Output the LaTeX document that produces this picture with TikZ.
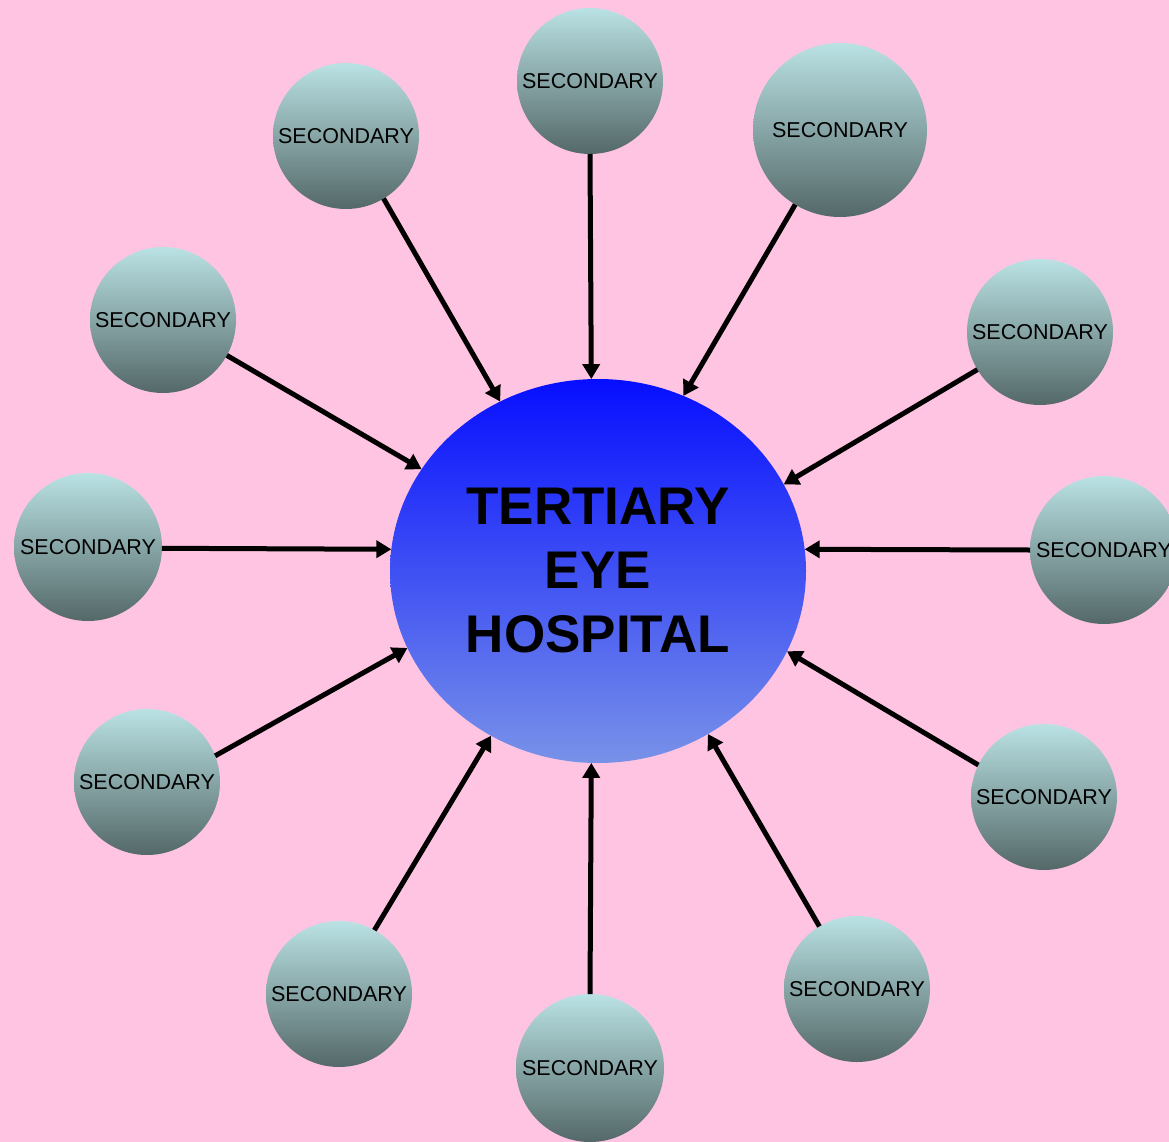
\documentclass[tikz,border=0pt]{standalone}
\usepackage{fontspec}
\setmainfont{Liberation Sans}
\usetikzlibrary{arrows.meta,shapes.geometric}

\definecolor{bgpink}{RGB}{255,196,225}
\definecolor{secTop}{RGB}{186,226,228}
\definecolor{secBot}{RGB}{84,104,104}
\definecolor{hospTop}{RGB}{6,14,255}
\definecolor{hospBot}{RGB}{120,146,232}

\begin{document}
\begin{tikzpicture}[x=1pt,y=-1pt,
  sec/.style={circle,minimum size=146pt,inner sep=0pt,outer sep=0pt,
    top color=secTop,bottom color=secBot,font=\fontsize{21.5}{24}\selectfont},
  hosp/.style={ellipse,minimum width=416pt,minimum height=384pt,inner sep=0pt,
    outer sep=0pt,top color=hospTop,bottom color=hospBot,align=center,
    font=\fontsize{53}{64}\selectfont\bfseries},
  arr/.style={line width=5pt,-{Triangle[length=15pt,width=17pt]}}]
  \fill[bgpink] (0,0) rectangle (1169,1142);
  \useasboundingbox (0,0) rectangle (1169,1142);
  % centre
  \node[hosp] (hosp) at (598,571) {TERTIARY\\EYE\\HOSPITAL};
  % secondary centres round it
  \node[sec] (s1) at (590,81) {SECONDARY};
  \node[sec] (s2) at (346,136) {SECONDARY};
  \node[sec,minimum size=174pt] (s3) at (840,130) {SECONDARY};
  \node[sec] (s4) at (163,320) {SECONDARY};
  \node[sec] (s5) at (1040,332) {SECONDARY};
  \node[sec,minimum size=148pt] (s6) at (88,547) {SECONDARY};
  \node[sec,minimum size=148pt] (s7) at (1104,550) {SECONDARY};
  \node[sec] (s8) at (147,782) {SECONDARY};
  \node[sec] (s9) at (1044,797) {SECONDARY};
  \node[sec] (s10) at (339,994) {SECONDARY};
  \node[sec] (s11) at (857,989) {SECONDARY};
  \node[sec,minimum size=148pt] (s12) at (590,1068) {SECONDARY};
  \foreach \s/\a/\b in {s1/270/92,s2/-59/120,s3/239/64,s4/-29/150,
      s5/211/25,s6/-1/174,s7/180/6,s8/21/202,s9/154/-23,s10/61/237,
      s11/121/-56,s12/90/268}
    \draw[arr] (\s.\a) -- (hosp.\b);
\end{tikzpicture}
\end{document}
